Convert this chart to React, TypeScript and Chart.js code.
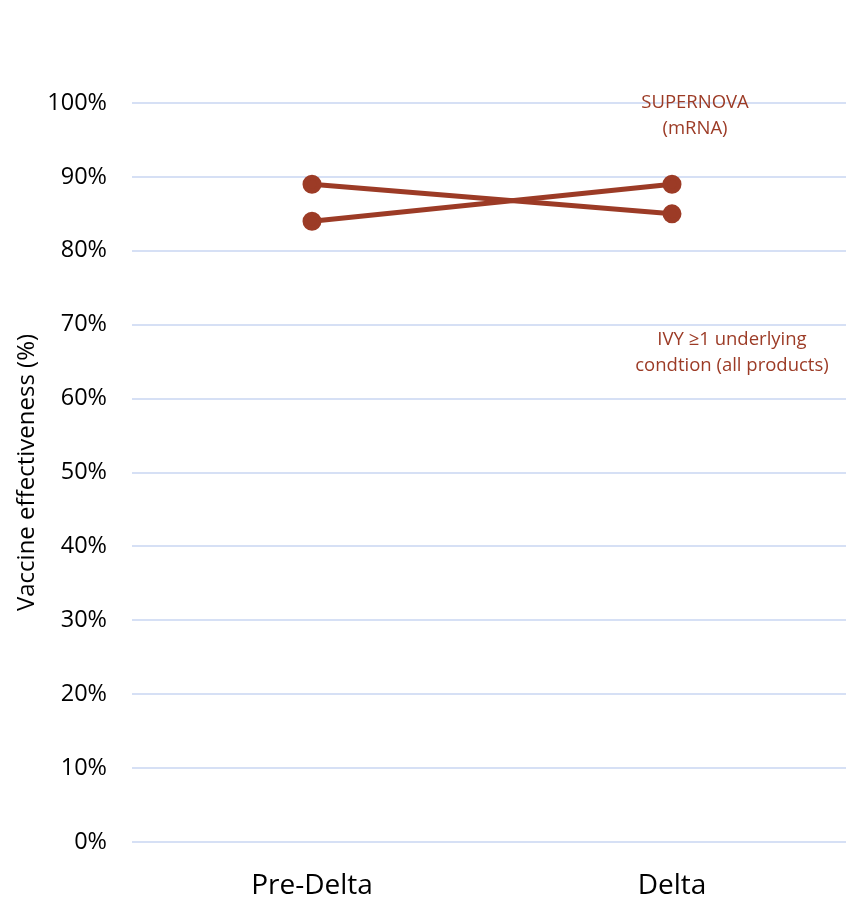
import { useEffect, useRef } from "react";
import { Chart, registerables } from "chart.js";

Chart.register(...registerables);

const periods = ["Pre-Delta", "Delta"];
const supernovaVE = [84, 89];
const ivyVE = [89, 85];
const yTicks = [0, 10, 20, 30, 40, 50, 60, 70, 80, 90, 100];

const seriesColor = "#9C3B26";
const fontFamily = "'Open Sans', 'Noto Sans', sans-serif";

// Series names written next to the Delta points, anchored to data values.
const seriesLabels = [
  { lines: ["SUPERNOVA", "(mRNA)"], value: 100, dx: 23 },
  { lines: ["IVY \u22651 underlying", "condtion (all products)"], value: 68, dx: 60 },
];

const seriesLabelPlugin = {
  id: "seriesLabels",
  afterDatasetsDraw(chart: any) {
    const { ctx, scales } = chart;
    const x0 = scales.x.getPixelForValue(1);
    ctx.save();
    ctx.fillStyle = seriesColor;
    ctx.font = `18.5px ${fontFamily}`;
    ctx.textAlign = "center";
    ctx.textBaseline = "middle";
    seriesLabels.forEach((l) => {
      const y = scales.y.getPixelForValue(l.value);
      l.lines.forEach((t, i) => ctx.fillText(t, x0 + l.dx, y + i * 26));
    });
    ctx.restore();
  },
};

export default function App() {
  const ref = useRef<HTMLCanvasElement | null>(null);

  useEffect(() => {
    document.body.style.margin = "0";
    document.body.style.overflow = "hidden";
    const chart = new Chart(ref.current!, {
      type: "line",
      data: {
        labels: periods,
        datasets: [
          {
            label: "SUPERNOVA (mRNA)",
            data: supernovaVE,
            borderColor: seriesColor,
            backgroundColor: seriesColor,
            borderWidth: 5,
            pointRadius: 7,
            pointHoverRadius: 7,
          },
          {
            label: "IVY ≥1 underlying condtion (all products)",
            data: ivyVE,
            borderColor: seriesColor,
            backgroundColor: seriesColor,
            borderWidth: 5,
            pointRadius: 7,
            pointHoverRadius: 7,
          },
        ],
      },
      options: {
        animation: false,
        responsive: false,
        layout: { padding: { top: 103, right: 8, left: 0, bottom: 0 } },
        plugins: { legend: { display: false }, tooltip: { enabled: false } },
        scales: {
          x: {
            offset: true,
            grid: { display: false },
            border: { display: false },
            ticks: { color: "#000", font: { family: fontFamily, size: 28 }, padding: 19 },
            afterFit: (s: any) => {
              s.height = 56;
            },
          },
          y: {
            min: 0,
            max: 100,
            afterBuildTicks: (s: any) => {
              s.ticks = yTicks.map((v) => ({ value: v }));
            },
            grid: { color: "#D6E0F5", lineWidth: 2, drawTicks: false },
            border: { display: false },
            ticks: {
              color: "#000",
              padding: 25,
              font: { family: fontFamily, size: 23.5 },
              callback: (v: any) => `${v}%`,
            },
            title: {
              display: true,
              text: "Vaccine effectiveness (%)",
              color: "#000",
              font: { family: fontFamily, size: 24 },
              padding: { top: 13, bottom: 0 },
            },
            afterFit: (s: any) => {
              s.width = 132;
            },
          },
        },
      },
      plugins: [seriesLabelPlugin],
    });
    return () => chart.destroy();
  }, []);

  return (
    <div style={{ width: 846, height: 898, overflow: "hidden", position: "relative" }}>
      <canvas ref={ref} width={864} height={898} style={{ display: "block" }} />
    </div>
  );
}
